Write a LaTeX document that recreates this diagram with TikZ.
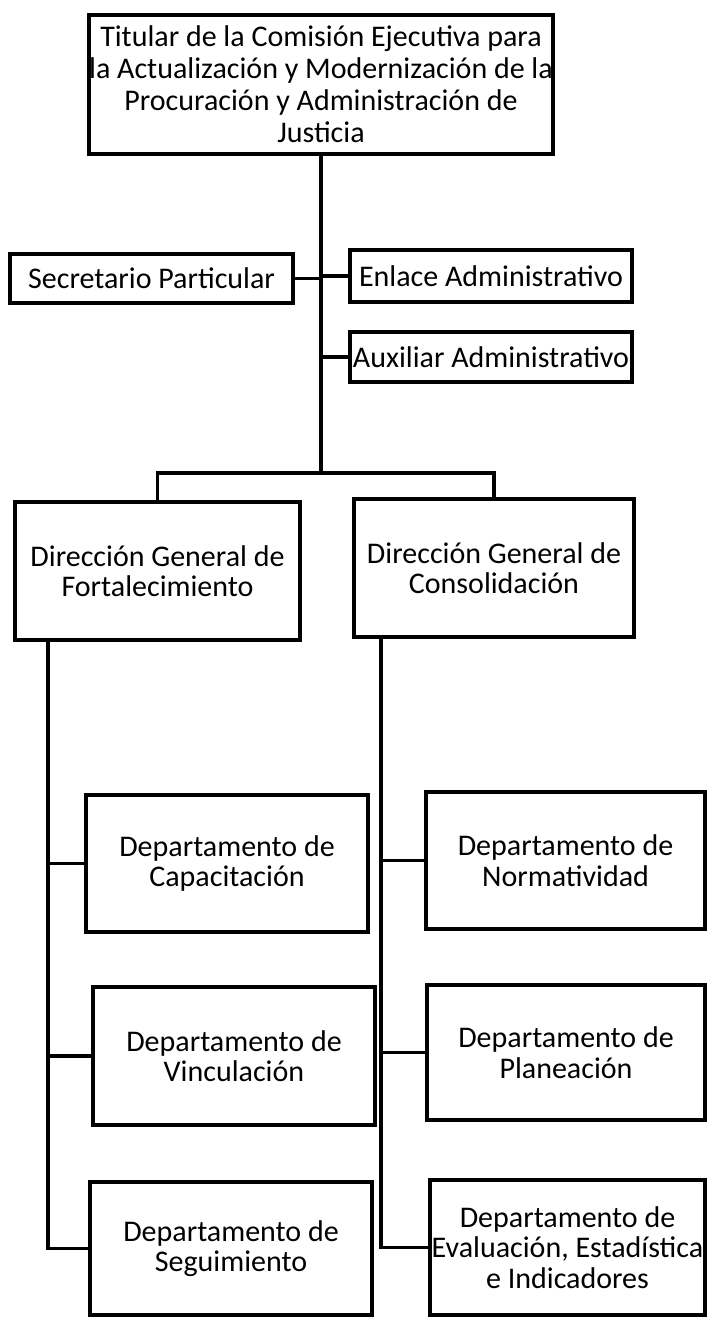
\documentclass[tikz,border=0pt]{standalone}
\usepackage{fontspec}
\setmainfont{Carlito}
\begin{document}
\begin{tikzpicture}[x=1pt,y=-1pt,
  box/.style={draw, line width=3.5pt, inner sep=0pt, outer sep=0pt, align=center,
    font=\fontsize{30}{30.5}\selectfont},
  link/.style={line width=3.5pt}]
\useasboundingbox[fill=white] (0,0) rectangle (708,1317);
% top
\node[box, minimum width=460pt, minimum height=139pt, font=\fontsize{30}{32}\selectfont] (titular) at (321,84.5)
  {Titular de la Comisión Ejecutiva para\\la Actualización y Modernización de la\\Procuración y Administración de\\Justicia};
\node[box, minimum width=283pt, minimum height=49pt] (secretario) at (151.5,278.5) {Secretario Particular};
\node[box, minimum width=282pt, minimum height=52pt] (enlace) at (491,276) {Enlace Administrativo};
\node[box, minimum width=282pt, minimum height=50pt] (auxiliar) at (491,357) {Auxiliar Administrativo};
% directions
\node[box, minimum width=285pt, minimum height=138pt] (fort) at (157.5,571) {Dirección General de\\Fortalecimiento};
\node[box, minimum width=280pt, minimum height=138pt] (cons) at (494,568) {Dirección General de\\Consolidación};
% departments left
\node[box, minimum width=282pt, minimum height=137pt] (capac) at (227,863.5) {Departamento de\\Capacitación};
\node[box, minimum width=282pt, minimum height=138pt] (vinc) at (234,1056) {Departamento de\\Vinculación};
\node[box, minimum width=282pt, minimum height=133pt] (segu) at (231,1248.5) {Departamento de\\Seguimiento};
% departments right
\node[box, minimum width=279pt, minimum height=137pt] (norm) at (565.5,860.5) {Departamento de\\Normatividad};
\node[box, minimum width=278pt, minimum height=135pt] (plan) at (566,1052.5) {Departamento de\\Planeación};
\node[box, minimum width=275pt, minimum height=135pt] (eval) at (567.5,1247.5) {Departamento de\\Evaluación, Estadística\\e Indicadores};
% coordinates
\coordinate (j) at (321,473);
\coordinate (lsp) at (48,0);
\coordinate (rsp) at (381,0);
% connectors
\draw[link] (titular.south) -- (j);
\draw[link] (secretario.east) -- (secretario.east -| titular.south);
\draw[link] (enlace.west) -- (enlace.west -| titular.south);
\draw[link] (auxiliar.west) -- (auxiliar.west -| titular.south);
\draw[link] (fort.north) -- (fort.north |- j) -- (cons.north |- j) -- (cons.north);
\draw[link] (fort.south -| lsp) |- (segu.west);
\draw[link] (capac.west) -- (capac.west -| lsp);
\draw[link] (vinc.west) -- (vinc.west -| lsp);
\draw[link] (cons.south -| rsp) |- (eval.west);
\draw[link] (norm.west) -- (norm.west -| rsp);
\draw[link] (plan.west) -- (plan.west -| rsp);
\end{tikzpicture}
\end{document}
